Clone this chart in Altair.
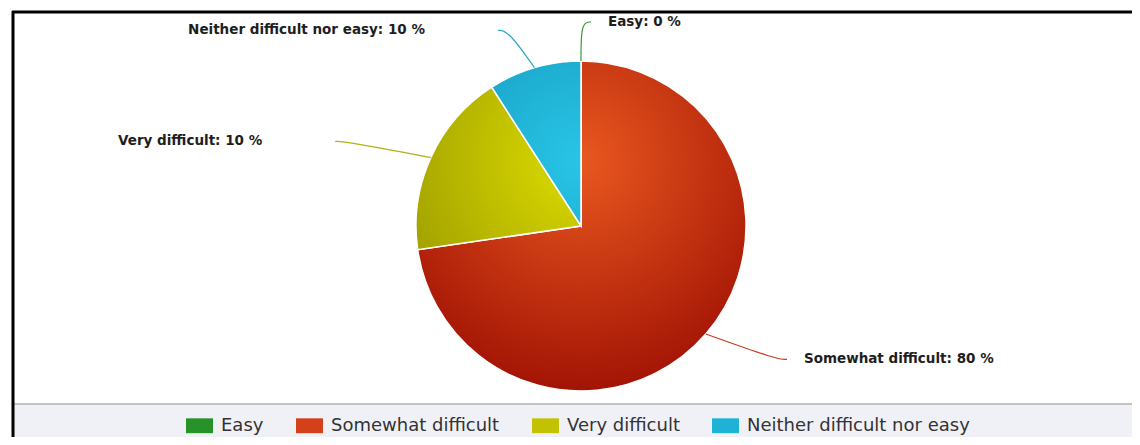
import math
import numpy as np
import pandas as pd
import altair as alt

# ---------------- data ----------------
categories = ["Easy", "Somewhat difficult", "Very difficult", "Neither difficult nor easy"]
shares = [0.0, 72.7, 18.2, 9.1]          # slice sizes measured from the slice angles
label_pct = [0, 80, 10, 10]              # percentages printed in the data labels

# ---------------- styles ----------------
legend_colors = ["#27922a", "#d4401a", "#c2c200", "#1db2d6"]
light_colors = ["#34a834", "#e9581f", "#dedd00", "#28c5e7"]
dark_colors = ["#1a6e1a", "#a31405", "#959400", "#1190b4"]
line_colors = ["#3a9a3a", "#c63a1c", "#b0b01a", "#2aa8c8"]

W, H = 1124, 429
CX, CY, R = 573, 218, 165     # pie centre / radius (px)
RL = 204                      # label ring
KX = 1.27                     # horizontal spread of label ring
GAP_R, GAP_L = 27, 83

total = float(sum(shares))
cum1 = np.cumsum(shares)
cum0 = cum1 - np.array(shares)
mid = (cum0 + cum1) / 2.0 / total * 2 * math.pi

df = pd.DataFrame({
    "cat": categories,
    "share": shares,
    "cum0": cum0,
    "cum1": cum1,
    "idx": range(len(categories)),
})

# connector + label table (derived from slice mid-angles)
conn_rows, lab_rows = [], []
for i, c in enumerate(categories):
    a = mid[i]
    s, co = math.sin(a), math.cos(a)
    side = 1 if s >= -1e-9 else -1
    ex = CX + RL * s * KX
    ly = CY - RL * co
    conn_rows += [
        {"cat": c, "pt": 0, "px": CX + R * s, "py": CY - R * co},
        {"cat": c, "pt": 1, "px": ex, "py": ly},
        {"cat": c, "pt": 2, "px": ex + side * 10, "py": ly},
    ]
    lab_rows.append({
        "cat": c,
        "label": f"{c}: {label_pct[i]} %",
        "tx": ex + GAP_R if side > 0 else ex - GAP_L,
        "ty": ly,
        "side": "right" if side > 0 else "left",
    })
conn_df = pd.DataFrame(conn_rows)
lab_df = pd.DataFrame(lab_rows)

theta_scale = alt.Scale(domain=[0, total], range=[0, 2 * math.pi])


def slice_gradient(i):
    """radial gradient centred on the pie (0.5, 0.3) expressed in the slice's own box"""
    a0 = cum0[i] / total * 2 * math.pi
    a1 = cum1[i] / total * 2 * math.pi
    t = np.linspace(a0, a1, 400)
    xs = np.concatenate([[0.0], np.sin(t)])
    ys = np.concatenate([[0.0], -np.cos(t)])
    bx0, bx1, by0, by1 = xs.min(), xs.max(), ys.min(), ys.max()
    unit = max(bx1 - bx0, by1 - by0)
    left = (bx0 + bx1) / 2 - unit / 2
    top = (by0 + by1) / 2 - unit / 2
    fx, fy = (0.0 - left) / unit, (-0.4 - top) / unit
    r = 1.4 / unit
    return {
        "gradient": "radial",
        "x1": fx, "y1": fy, "r1": 0,
        "x2": fx, "y2": fy, "r2": r,
        "stops": [
            {"offset": 0, "color": light_colors[i]},
            {"offset": 1, "color": dark_colors[i]},
        ],
    }


dummy = pd.DataFrame({"a": [0]})

band = alt.Chart(dummy).mark_rect(fill="#f0f1f7").encode(
    x=alt.value(6), x2=alt.value(W), y=alt.value(397), y2=alt.value(H)
)
sep = alt.Chart(dummy).mark_rule(color="#c2c2c2", strokeWidth=2).encode(
    x=alt.value(6), x2=alt.value(W), y=alt.value(396)
)
top_border = alt.Chart(dummy).mark_rule(color="#000000", strokeWidth=3).encode(
    x=alt.value(4), x2=alt.value(W), y=alt.value(4)
)
left_border = alt.Chart(dummy).mark_rule(color="#000000", strokeWidth=3).encode(
    x=alt.value(5), y=alt.value(3), y2=alt.value(H)
)

base = alt.Chart(df).mark_arc(radius=R).encode(
    x=alt.value(CX),
    y=alt.value(CY),
    theta=alt.Theta("cum0:Q", scale=theta_scale, stack=None),
    theta2="cum1:Q",
    color=alt.Color(
        "cat:N",
        sort=categories,
        scale=alt.Scale(domain=categories, range=legend_colors),
        legend=alt.Legend(
            title=None,
            orient="none",
            legendX=178,
            legendY=404,
            direction="horizontal",
            columns=4,
            symbolType="M-1,-0.55H1V0.55H-1Z",
            symbolSize=729,
            symbolStrokeWidth=0,
            labelFont="DejaVu Sans",
            labelFontSize=18,
            labelColor="#333333",
            labelOffset=8,
            labelLimit=400,
            columnPadding=32,
        ),
    ),
)

grad_layers = []
for i, c in enumerate(categories):
    if shares[i] <= 0:
        continue
    grad_layers.append(
        alt.Chart(df)
        .transform_filter(alt.datum.cat == c)
        .mark_arc(radius=R, fill=slice_gradient(i), stroke="white", strokeWidth=1.5)
        .encode(
            x=alt.value(CX),
            y=alt.value(CY),
            theta=alt.Theta("cum0:Q", scale=theta_scale, stack=None),
            theta2="cum1:Q",
        )
    )

connectors = alt.Chart(conn_df).mark_line(interpolate="basis", strokeWidth=1.2).encode(
    x=alt.X("px:Q", scale=None, axis=None),
    y=alt.Y("py:Q", scale=None, axis=None),
    detail="cat:N",
    order="pt:Q",
    stroke=alt.Stroke("cat:N", scale=alt.Scale(domain=categories, range=line_colors), legend=None),
)

lab_common = dict(font="DejaVu Sans", fontSize=13.5, fontWeight="bold", color="#1e1e1e", baseline="middle")
labels_r = alt.Chart(lab_df).transform_filter(alt.datum.side == "right").mark_text(align="left", **lab_common).encode(
    x=alt.X("tx:Q", scale=None, axis=None), y=alt.Y("ty:Q", scale=None, axis=None), text="label:N"
)
labels_l = alt.Chart(lab_df).transform_filter(alt.datum.side == "left").mark_text(align="right", **lab_common).encode(
    x=alt.X("tx:Q", scale=None, axis=None), y=alt.Y("ty:Q", scale=None, axis=None), text="label:N"
)

chart = (
    alt.layer(band, sep, top_border, left_border, base, *grad_layers, connectors, labels_r, labels_l)
    .resolve_scale(color="independent", stroke="independent")
    .properties(width=W, height=H, autosize=alt.AutoSizeParams(type="none"), padding=0)
    .configure(background="white")
    .configure_view(stroke=None)
)

chart.save("out.html", embed_options={"renderer": "svg", "actions": False})
